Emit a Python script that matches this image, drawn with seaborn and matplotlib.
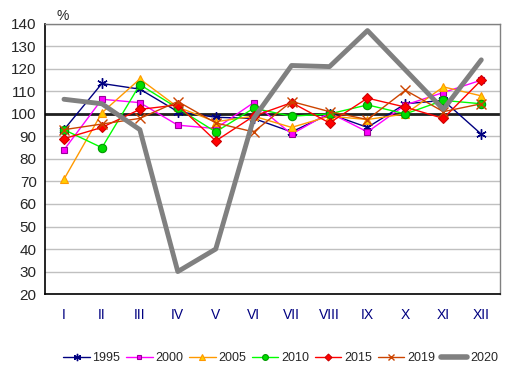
import matplotlib
matplotlib.use("Agg")
import matplotlib.pyplot as plt
import seaborn as sns
import numpy as np
import pandas as pd
from matplotlib.lines import Line2D

months = ["I", "II", "III", "IV", "V", "VI", "VII", "VIII", "IX", "X", "XI", "XII"]
y1995 = [93, 113.5, 111, 101, 98.5, 98, 92, 100, 94, 104.5, 106, 91]
y2000 = [84, 106.5, 105, 95, 93.5, 105, 91, 100.5, 92, 104, 109.5, 115]
y2005 = [71, 100.5, 115.5, 103, 96.5, 99, 94, 99, 97.5, 100, 112, 108]
y2010 = [93, 85, 113, 102.5, 92, 102.5, 99, 100, 104, 100, 106, 104.5]
y2015 = [89, 94, 102, 104, 88, 99, 105, 96, 107, 103, 98, 115]
y2019 = [93, 95.5, 98, 105.5, 96, 92, 105.5, 101, 97.5, 110.5, 101, 104.5]
y2020 = [106.5, 104.5, 93, 30, 40, 98, 121.5, 121, 137, 119.5, 102, 124]

series = {"1995": y1995, "2000": y2000, "2005": y2005, "2010": y2010,
          "2015": y2015, "2019": y2019, "2020": y2020}

styles = {
    "1995": dict(color="#000080", marker=(6, 2, 0), ms=7.5, mfc="#000080", mec="#000080", lw=1, mew=1),
    "2000": dict(color="#FF00FF", marker="s", ms=5, mfc="#FF00FF", mec="#990099", lw=1, mew=0.8),
    "2005": dict(color="#FF9900", marker="^", ms=6, mfc="#FFCC00", mec="#FF9900", lw=1, mew=0.8),
    "2010": dict(color="#00FF00", marker="o", ms=6, mfc="#00DD00", mec="#009900", lw=1, mew=0.8),
    "2015": dict(color="#FF0000", marker="D", ms=5, mfc="#FF0000", mec="#CC0000", lw=1, mew=0.8),
    "2019": dict(color="#CC4400", marker="x", ms=6.5, mfc="#CC4400", mec="#CC4400", lw=1, mew=1),
    "2020": dict(color="#808080", marker=None, ms=0, mfc="none", mec="none", lw=3.5, mew=0),
}

sns.set_style("white")
plt.rcParams["font.family"] = ["Liberation Sans", "DejaVu Sans"]

fig = plt.figure(figsize=(5.15, 3.78), dpi=100)
ax = fig.add_axes([0.0874, 0.222, 0.884, 0.715])

x = np.arange(len(months))
ax.axhline(100, color="#202020", lw=2, zorder=2)
for name, vals in series.items():
    st = styles[name]
    df = pd.DataFrame({"m": x, "v": vals})
    sns.lineplot(data=df, x="m", y="v", ax=ax, color=st["color"], lw=st["lw"],
                 marker=st["marker"], markersize=st["ms"], markerfacecolor=st["mfc"],
                 markeredgecolor=st["mec"], markeredgewidth=st["mew"], label=name,
                 zorder=3 if name != "2020" else 4, legend=False)

ax.set_xlim(-0.5, 11.5)
ax.set_ylim(20, 140)
ax.set_yticks(range(20, 141, 10))
ax.set_xticks(x)
ax.set_xticklabels(months, color="#000080")
ax.tick_params(axis="y", labelsize=11, length=0, pad=6)
ax.tick_params(axis="x", labelsize=10, length=0, pad=10)
ax.set_xlabel("")
ax.set_ylabel("")
ax.yaxis.grid(True, color="#C0C0C0", lw=1)
ax.set_axisbelow(True)
for s in ["left", "bottom"]:
    ax.spines[s].set_color("black")
    ax.spines[s].set_linewidth(1.2)
for s in ["top", "right"]:
    ax.spines[s].set_color("#808080")
    ax.spines[s].set_linewidth(1)

fig.text(0.122, 0.958, "%", fontsize=10, ha="center", va="center")

handles = []
for name in series:
    st = styles[name]
    handles.append(Line2D([], [], color=st["color"], lw=st["lw"] if name != "2020" else 4,
                          marker=st["marker"], ms=st["ms"] * 0.7, mfc=st["mfc"], mec=st["mec"],
                          mew=st["mew"]))
fig.legend(handles, list(series.keys()), loc="center", bbox_to_anchor=(0.545, 0.053),
           ncol=7, frameon=False, fontsize=9, handlelength=2.1, columnspacing=0.5,
           handletextpad=0.2)

fig.savefig("out.png", dpi=100)
